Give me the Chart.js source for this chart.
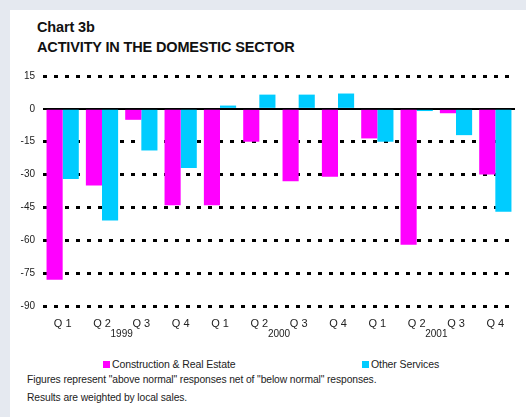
<!DOCTYPE html>
<html>
<head>
<meta charset="utf-8">
<script src="https://cdn.jsdelivr.net/npm/chart.js@4/dist/chart.umd.min.js"></script>
<style>
  body { margin: 0; background: #e5e9f0; font-family: "Liberation Sans", Arial, sans-serif; }
  #panel { position: absolute; left: 10px; top: 10px; width: 516px; height: 407px; background: #fff; }
  .title { position: absolute; left: 27px; font-weight: bold; font-size: 14.5px; color: #111; letter-spacing: -0.15px; white-space: nowrap; }
  #wrap { position: absolute; left: 0; top: 45px; width: 516px; height: 300px; }
  .legend { position: absolute; top: 348px; font-size: 10.5px; color: #222; white-space: nowrap; letter-spacing: -0.1px; }
  .legend span.box { display: inline-block; width: 7px; height: 7px; margin-right: 2px; vertical-align: 0px; }
  .note { position: absolute; left: 17px; font-size: 10.3px; color: #222; white-space: nowrap; letter-spacing: -0.1px; }
</style>
</head>
<body>
<div id="panel">
  <div class="title" style="top:9px">Chart 3b</div>
  <div class="title" style="top:29px">ACTIVITY IN THE DOMESTIC SECTOR</div>
  <div id="wrap"><canvas id="chart"></canvas></div>
  <div id="legend"></div>
  <div class="note" style="top:364px">Figures represent "above normal" responses net of "below normal" responses.</div>
  <div class="note" style="top:382px">Results are weighted by local sales.</div>
</div>
<script>
const quarters = ['Q 1', 'Q 2', 'Q 3', 'Q 4', 'Q 1', 'Q 2', 'Q 3', 'Q 4', 'Q 1', 'Q 2', 'Q 3', 'Q 4'];
const years = ['1999', '2000', '2001'];
const construction = [-78, -35, -5, -44, -44, -15, -33, -31, -13.5, -62, -2, -30];
const otherServices = [-32, -51, -19, -27, 1.5, 6.5, 6.5, 7, -15, -1, -12, -47];
const seriesNames = ['Construction & Real Estate', 'Other Services'];
const seriesColors = ['#ff00ff', '#00ccff'];
const yMin = -90, yMax = 15, yStep = 15;

// legend sits in html, spread out under the plot
const legendLeft = [93, 352];
document.getElementById('legend').innerHTML = seriesNames.map((n, i) =>
  '<div class="legend" style="left:' + legendLeft[i] + 'px"><span class="box" style="background:' +
  seriesColors[i] + '"></span>' + n + '</div>').join('');

const fam = '"Liberation Sans", Arial, sans-serif';

// bottom axis: quarter names under each bar pair, year on a second line
// centred between the 2nd and 3rd quarter of each year
const bottomTicks = [];
quarters.forEach((q, i) => bottomTicks.push({ value: i + 0.5, text: q }));
years.forEach((y, j) => bottomTicks.push({ value: 4 * j + 2, text: ['', y], year: true }));
bottomTicks.sort((a, b) => a.value - b.value);

new Chart(document.getElementById('chart'), {
  type: 'bar',
  data: {
    labels: quarters,
    datasets: [
      { label: seriesNames[0], data: construction, backgroundColor: seriesColors[0] },
      { label: seriesNames[1], data: otherServices, backgroundColor: seriesColors[1] }
    ]
  },
  options: {
    responsive: true,
    maintainAspectRatio: false,
    animation: false,
    layout: { padding: { top: 21, right: 11, left: 0, bottom: 0 } },
    datasets: { bar: { categoryPercentage: 0.82, barPercentage: 1 } },
    plugins: { legend: { display: false }, tooltip: { enabled: false } },
    scales: {
      x: { display: false },
      x2: {
        type: 'linear',
        position: 'bottom',
        offset: false,
        min: 0,
        max: quarters.length,
        grid: { display: false, drawTicks: false },
        border: { display: false },
        afterBuildTicks: s => { s.ticks = bottomTicks.map(t => ({ value: t.value })); },
        ticks: {
          autoSkip: false,
          maxRotation: 0,
          padding: 12,
          color: '#222',
          font: c => {
            const t = bottomTicks[c.index];
            return t && t.year ? { family: fam, size: 10, lineHeight: '11px' } : { family: fam, size: 11, lineHeight: '11px' };
          },
          callback: (v, i) => bottomTicks[i].text
        },
        afterFit: s => { s.height = 49; }
      },
      y: {
        min: yMin,
        max: yMax,
        ticks: { stepSize: yStep, font: { family: fam, size: 10 }, color: '#222', padding: 8 },
        grid: {
          drawTicks: false,
          color: '#000',
          lineWidth: c => c.tick && c.tick.value === 0 ? 2 : 3
        },
        border: {
          display: false,
          dash: c => c.tick && c.tick.value === 0 ? [] : [4, 7]
        },
        afterFit: s => { s.width = 33; }
      }
    }
  }
});
</script>
</body>
</html>
